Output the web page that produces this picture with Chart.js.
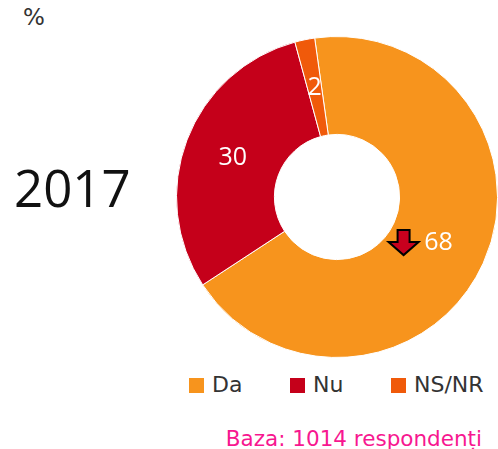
<!DOCTYPE html>
<html>
<head>
<meta charset="utf-8">
<script src="https://cdn.jsdelivr.net/npm/chart.js@4/dist/chart.umd.min.js"></script>
<style>
  body { margin: 0; width: 498px; height: 449px; background: #fff; position: relative; overflow: hidden; font-family: "DejaVu Sans", sans-serif; }
  #pct { position: absolute; left: 23px; top: 6px; font-size: 23px; line-height: 1; color: #333; }
  #year { position: absolute; left: 14px; top: 152px; font-size: 51px; color: #111; font-family: "Open Sans", sans-serif; }
  #wrap { position: absolute; left: 176px; top: 36px; width: 322px; height: 322px; }
  #legend { position: absolute; left: 189px; top: 374px; display: flex; font-size: 22px; line-height: 1; color: #333; }
  #legend .item { display: flex; align-items: center; width: 101px; }
  #legend .sw { width: 15px; height: 15px; margin-right: 8px; }
  #legend .item:last-child { width: auto; }
  #base { position: absolute; right: 16px; top: 428px; font-size: 21.5px; line-height: 1; color: #F71790; }
</style>
</head>
<body>
<div id="pct">%</div>
<div id="year">2017</div>
<div id="wrap"><canvas id="c"></canvas></div>
<div id="legend"></div>
<div id="base">Baza: 1014 respondenți</div>
<script>
const categories = ["Da", "Nu", "NS/NR"];
const values = [68, 30, 2];
const colors = ["#F7941D", "#C5001A", "#F05A0A"];

// white value labels at the middle of each ring segment, plus the down arrow by "Da"
const valueLabels = {
  id: "valueLabels",
  afterDatasetsDraw(chart) {
    const ctx = chart.ctx;
    const arcs = chart.getDatasetMeta(0).data;
    ctx.save();
    ctx.font = "25px 'Open Sans', sans-serif";
    ctx.textAlign = "center";
    ctx.textBaseline = "middle";
    arcs.forEach((arc, i) => {
      const p = arc.tooltipPosition();
      ctx.fillStyle = "#fff";
      ctx.fillText(String(values[i]), p.x, p.y);
      if (i === 0) {
        // decrease arrow left of the label
        const ax = p.x - 35, ay = p.y;
        ctx.beginPath();
        ctx.moveTo(ax - 6, ay - 13);
        ctx.lineTo(ax + 6, ay - 13);
        ctx.lineTo(ax + 6, ay - 1);
        ctx.lineTo(ax + 15, ay - 1);
        ctx.lineTo(ax, ay + 12);
        ctx.lineTo(ax - 15, ay - 1);
        ctx.lineTo(ax - 6, ay - 1);
        ctx.closePath();
        ctx.fillStyle = "#C8001E";
        ctx.fill();
        ctx.lineWidth = 2;
        ctx.strokeStyle = "#000";
        ctx.stroke();
      }
    });
    ctx.restore();
  }
};

new Chart(document.getElementById("c"), {
  type: "doughnut",
  data: {
    labels: categories,
    datasets: [{
      data: values,
      backgroundColor: colors,
      borderColor: "#fff",
      borderWidth: 1
    }]
  },
  options: {
    responsive: true,
    maintainAspectRatio: false,
    animation: false,
    rotation: -8,
    cutout: "39%",
    layout: { padding: 0 },
    plugins: {
      legend: { display: false },
      tooltip: { enabled: false }
    }
  },
  plugins: [valueLabels]
});

const legend = document.getElementById("legend");
categories.forEach((name, i) => {
  const item = document.createElement("div");
  item.className = "item";
  item.innerHTML = `<span class="sw" style="background:${colors[i]}"></span><span>${name}</span>`;
  legend.appendChild(item);
});
</script>
</body>
</html>
